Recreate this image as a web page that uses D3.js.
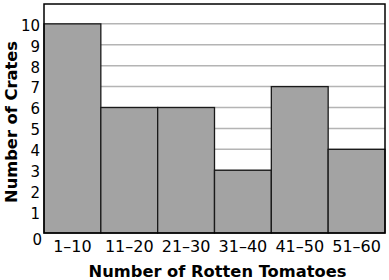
<!DOCTYPE html>
<html><head><meta charset="utf-8">
<script src="https://cdn.jsdelivr.net/npm/d3@7"></script>
<style>body{margin:0;background:#fff}svg{display:block}</style>
</head><body>
<script>
const categories = ["1–10","11–20","21–30","31–40","41–50","51–60"];
const counts = [10,6,6,3,7,4];
const yTicks = [1,2,3,4,5,6,7,8,9,10];
const xTitle = "Number of Rotten Tomatoes";
const yTitle = "Number of Crates";

const W=389,H=280;
const m={left:44,right:4,top:4,bottom:47};
const svg=d3.select("body").append("svg").attr("width",W).attr("height",H);
const x=d3.scaleBand().domain(categories).range([m.left,W-m.right]).padding(0);
const y=d3.scaleLinear().domain([0,10.95]).range([H-m.bottom,m.top]);

// gridlines
svg.append("g").selectAll("line").data(yTicks).join("line")
  .attr("x1",m.left).attr("x2",W-m.right)
  .attr("y1",d=>y(d)).attr("y2",d=>y(d))
  .attr("stroke","#b4b4b4").attr("stroke-width",1.5);

// bars
svg.append("g").selectAll("rect").data(counts).join("rect")
  .attr("x",(d,i)=>x(categories[i]))
  .attr("width",x.bandwidth())
  .attr("y",d=>y(d)).attr("height",d=>y(0)-y(d))
  .attr("fill","#a3a3a3").attr("stroke","#1a1a1a").attr("stroke-width",1.3);

// frame
svg.append("rect").attr("x",m.left).attr("y",m.top)
  .attr("width",W-m.left-m.right).attr("height",y(0)-m.top)
  .attr("fill","none").attr("stroke","#000").attr("stroke-width",1.5);

// y tick labels
const yAxis=d3.axisLeft(y).tickValues(yTicks).tickSize(0).tickPadding(4).tickFormat(d3.format("d"));
const ya=svg.append("g").attr("transform",`translate(${m.left},0)`).call(yAxis);
ya.select(".domain").remove();
ya.selectAll("text").attr("font-family","DejaVu Sans, Verdana, sans-serif").attr("font-size",15).attr("fill","#000").attr("dy","0.42em");
svg.append("text").attr("x",m.left-2).attr("y",y(0)+12).attr("text-anchor","end")
  .attr("font-family","DejaVu Sans, Verdana, sans-serif").attr("font-size",15).text("0");

// x tick labels
const xAxis=d3.axisBottom(x).tickSize(0).tickPadding(8);
const xa=svg.append("g").attr("transform",`translate(0,${y(0)})`).call(xAxis);
xa.select(".domain").remove();
xa.selectAll("text").attr("font-family","DejaVu Sans, Verdana, sans-serif").attr("font-size",16).attr("fill","#000");

// titles
svg.append("text").attr("x",217.5).attr("y",276.5).attr("text-anchor","middle")
  .attr("font-family","DejaVu Sans, Verdana, sans-serif").attr("font-weight","bold").attr("font-size",16.3).text(xTitle);
svg.append("text").attr("transform",`translate(16.5,122) rotate(-90)`).attr("text-anchor","middle")
  .attr("font-family","DejaVu Sans, Verdana, sans-serif").attr("font-weight","bold").attr("font-size",16.3).text(yTitle);
</script>
</body></html>
